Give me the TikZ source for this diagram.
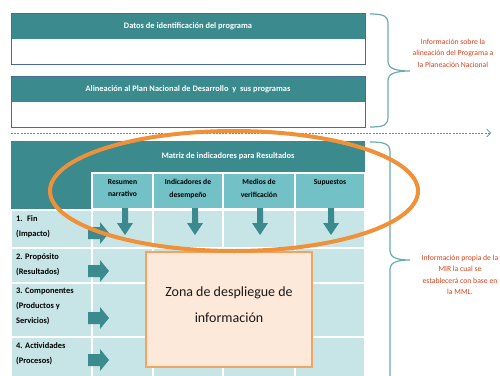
\documentclass[tikz,border=0pt]{standalone}
\usepackage{fontspec}
\setmainfont{Carlito}
\usetikzlibrary{shapes.geometric,arrows.meta}
\definecolor{dteal}{HTML}{3A8A8E}
\definecolor{mteal}{HTML}{72C1C6}
\definecolor{lteal}{HTML}{C7E5E6}
\definecolor{frameblue}{HTML}{4A6A96}
\definecolor{bracec}{HTML}{6AAAB0}
\definecolor{dashc}{HTML}{4F97A8}
\definecolor{notec}{HTML}{D8431C}
\definecolor{ovalc}{HTML}{F0913A}
\definecolor{peach}{HTML}{FDE9D9}
\definecolor{peachb}{HTML}{F4A460}
\definecolor{arrc}{HTML}{3A8A8E}
\tikzset{
  blk/.style={anchor=north west, inner sep=0pt, outer sep=0pt},
  hdrfill/.style={blk, fill=dteal},
  whitebox/.style={blk, fill=white},
  frame/.style={blk, draw=frameblue, line width=1pt},
  hdrtext/.style={text=white, font=\bfseries\fontsize{8.4}{9}\selectfont, inner sep=0pt},
  colhead/.style={blk, fill=mteal, draw=white, line width=1.5pt},
  colheadtext/.style={anchor=north, align=center, inner sep=0pt, text=black, font=\bfseries\fontsize{7.6}{12.5}\selectfont},
  bodycell/.style={blk, fill=lteal, draw=white, line width=1.5pt},
  rowtext/.style={anchor=north west, align=left, inner sep=0pt, text=black, font=\bfseries\fontsize{8.4}{15}\selectfont},
  notetext/.style={align=center, inner sep=0pt, text=notec, font=\fontsize{7.7}{11.5}\selectfont},
  bracepath/.style={draw=bracec, line width=1.2pt},
  dashline/.style={draw=dashc, line width=0.7pt, dash pattern=on 2pt off 1.2pt, -{Straight Barb[length=4pt,width=8pt]}},
  zonebox/.style={blk, fill=peach, draw=peachb, line width=1.5pt},
  oval/.style={ellipse, draw=ovalc, line width=4pt, minimum width=368pt, minimum height=120pt, inner sep=0pt},
  downarr/.pic={\fill[arrc] (-3,-15) -- (3,-15) -- (3,0) -- (8,0) -- (0,12) -- (-8,0) -- (-3,0) -- cycle;},
  rightarr/.pic={\fill[arrc] (-12,-6) -- (0,-6) -- (0,-11) -- (9,0) -- (0,11) -- (0,6) -- (-12,6) -- cycle;}
}
\begin{document}
\begin{tikzpicture}[x=1pt,y=-1pt]
\useasboundingbox (0,0) rectangle (500,375);
\fill[white] (0,0) rectangle (500,375);

% top box 1
\node[hdrfill, minimum width=354pt, minimum height=26pt] (hd1) at (11,13) {};
\node[whitebox, minimum width=354pt, minimum height=25pt] (bx1) at (11,39) {};
\node[frame, minimum width=354pt, minimum height=51pt] (fr1) at (11,13) {};
\node[hdrtext] (t1) at (hd1.center) {Datos de identificación del programa};

% top box 2
\node[hdrfill, minimum width=354pt, minimum height=26pt] (hd2) at (11,76) {};
\node[whitebox, minimum width=354pt, minimum height=25pt] (bx2) at (11,102) {};
\node[frame, minimum width=354pt, minimum height=51pt] (fr2) at (11,76) {};
\node[hdrtext] (t2) at (hd2.center) {Alineación al Plan Nacional de Desarrollo \ y \ sus programas};

% brace 1
\path[bracepath] (370,14) .. controls (384,14) and (388,16) .. (388,24) -- (388,62)
  .. controls (388,68) and (395,71) .. (410,71) .. controls (395,71) and (388,74) .. (388,80)
  -- (388,117) .. controls (388,125) and (384,127) .. (370,127);
\node[notetext] (n1) at (453,53) {Información sobre la\\alineación del Programa a\\la Planeación Nacional};

% dashed separator
\coordinate (dl1) at (11,133);
\coordinate (dl2) at (491,133);
\draw[dashline] (dl1) -- (dl2);

% table header
\node[hdrfill, minimum width=354pt, minimum height=68pt] (tb) at (11,141) {};
\node[hdrtext] (mt) at (228,156) {Matriz de indicadores para Resultados};
\node[colhead, minimum width=61pt, minimum height=36pt] (ch1) at (92,173) {};
\node[colhead, minimum width=70pt, minimum height=36pt] (ch2) at (153,173) {};
\node[colhead, minimum width=72pt, minimum height=36pt] (ch3) at (223,173) {};
\node[colhead, minimum width=70pt, minimum height=36pt] (ch4) at (295,173) {};
\node[colheadtext] (cht1) at (122.5,179) {Resumen\\narrativo};
\node[colheadtext] (cht2) at (188,179) {Indicadores de\\desempeño};
\node[colheadtext] (cht3) at (259,179) {Medios de\\verificación};
\node[colheadtext] (cht4) at (330,179) {Supuestos};

% body rows
\foreach \r/\y/\h in {1/210/38, 2/248/35, 3/283/54, 4/337/40} {
  \node[bodycell, minimum width=81pt, minimum height=\h pt] (lb\r) at (11,\y) {};
  \node[bodycell, minimum width=61pt, minimum height=\h pt] (c\r a) at (92,\y) {};
  \node[bodycell, minimum width=70pt, minimum height=\h pt] (c\r b) at (153,\y) {};
  \node[bodycell, minimum width=72pt, minimum height=\h pt] (c\r c) at (223,\y) {};
  \node[bodycell, minimum width=70pt, minimum height=\h pt] (c\r d) at (295,\y) {};
}
\node[rowtext] (rt1) at (16,215) {1. \ Fin\\(Impacto)};
\node[rowtext] (rt2) at (16,253) {2. Propósito\\(Resultados)};
\node[rowtext] (rt3) at (16,288) {3. Componentes\\(Productos y\\Servicios)};
\node[rowtext] (rt4) at (16,342) {4. Actividades\\(Procesos)};

% arrows
\pic (da1) at (125,223) {downarr};
\pic (da2) at (195,223) {downarr};
\pic (da3) at (260,223) {downarr};
\pic (da4) at (331,223) {downarr};
\pic (ra1) at (100,233) {rightarr};
\pic (ra2) at (100,271) {rightarr};
\pic (ra3) at (100,318) {rightarr};
\pic (ra4) at (100,360) {rightarr};

% display zone
\node[zonebox, minimum width=166pt, minimum height=115pt] (zn) at (146,252) {};
\node[align=center, inner sep=0pt, text=black!90, font=\fontsize{14}{26}\selectfont] (znt) at (229,305) {Zona de despliegue de\\información};

% brace 2
\path[bracepath] (370,142) .. controls (385,142) and (390,144) .. (390,152) -- (390,251)
  .. controls (390,257) and (396,260) .. (410,260) .. controls (396,260) and (390,263) .. (390,269)
  -- (390,378);
\node[notetext] (n2) at (460,275) {Información propia de la\\MIR la cual se\\establecerá con base en\\la MML.};

% oval highlight
\node[oval] (ov) at (234,191) {};
\end{tikzpicture}
\end{document}
